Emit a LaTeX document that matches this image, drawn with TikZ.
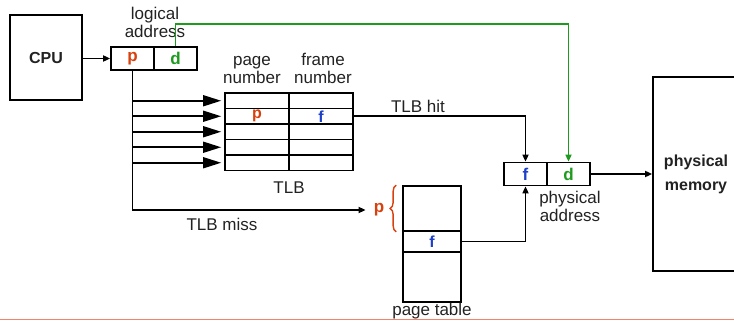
\documentclass[tikz,border=0pt]{standalone}
\usepackage{fontspec}
\setmainfont{Liberation Sans}
\usetikzlibrary{arrows.meta,positioning,decorations.pathreplacing}
\definecolor{inkgray}{HTML}{222222}
\definecolor{pagered}{HTML}{D8400E}
\definecolor{offgreen}{HTML}{1E9B1E}
\definecolor{frameblue}{HTML}{1E40C8}
\definecolor{rulesalmon}{HTML}{F4836C}

\begin{document}
\begin{tikzpicture}[
  x=1pt,y=-1pt,
  font=\fontsize{17}{18}\selectfont,
  bold/.style={font=\fontsize{16}{18}\selectfont\bfseries},
  cell/.style={draw=black,line width=1.7pt,minimum width=43pt,minimum height=23pt,
               inner sep=0pt,font=\fontsize{17}{18}\selectfont\bfseries},
  tlbcell/.style={draw=black,line width=1.7pt,minimum width=64pt,minimum height=15.5pt,
                  inner sep=0pt},
  ptcell/.style={draw=black,line width=1.7pt,minimum width=58pt,inner sep=0pt,bold},
  lbl/.style={align=center,inner sep=0pt,text=inkgray},
  arr/.style={-{Triangle[length=7pt,width=6pt]},line width=1.6pt},
  bigarr/.style={-{Triangle[length=18pt,width=11pt]},line width=1.6pt,shorten >=3pt}
]
  \useasboundingbox (0,0) rectangle (734,321);
  % cpu and logical address
  \node[draw,line width=1.7pt,minimum width=72pt,minimum height=85pt,bold,text=inkgray]
    (cpu) at (46,57.5) {CPU};
  \node[cell,text=pagered] (lp) at (132.5,58.5) {p};
  \node[cell,text=offgreen] (ld) at (175.5,58.5) {d};
  \node[lbl,anchor=south] (laddr) at (155,38) {logical\\address};
  \draw[arr] (cpu.east |- lp.west) -- (lp.west);

  % TLB
  \foreach \r in {1,...,5}{
    \node[tlbcell] (tp\r) at (257,{85.25+15.5*\r}) {};
    \node[tlbcell] (tf\r) at (321,{85.25+15.5*\r}) {};
    \draw[bigarr] (lp.south |- tp\r.west) -- (tp\r.west);
  }
  \node[bold,text=pagered,inner sep=0pt] (tlbp) at (tp2) {p};
  \node[bold,text=frameblue,inner sep=0pt] (tlbf) at (tf2) {f};
  \node[lbl,anchor=south] (pnum) at (252,84) {page\\number};
  \node[lbl,anchor=south] (fnum) at (323,84) {frame\\number};
  \node[lbl,anchor=base] (tlblbl) at (289,193) {TLB};

  % page table
  \node[ptcell,minimum height=45pt] (pt1) at (432,208.5) {};
  \node[ptcell,minimum height=21pt,text=frameblue] (ptf) at (432,241.5) {f};
  \node[ptcell,minimum height=50pt] (pt3) at (432,277) {};
  \node[lbl,anchor=base] (ptlbl) at (432,315) {page table};
  \draw[pagered,line width=1.4pt,decorate,decoration={brace,amplitude=6pt}]
    ([xshift=-6pt]pt1.south west) -- ([xshift=-6pt]pt1.north west);
  \node[font=\fontsize{17}{18}\selectfont\bfseries,text=pagered,inner sep=0pt] (ptp) at (379,210) {p};
  \draw[arr,shorten >=8pt] (lp.south) |- (ptp.west);
  \node[lbl,anchor=base] (misslbl) at (222,230) {TLB miss};

  % physical address and memory
  \node[cell,text=frameblue] (pf) at (525.5,174) {f};
  \node[cell,text=offgreen] (pd) at (568.5,174) {d};
  \node[lbl,anchor=south] (paddr) at (570,222) {physical\\address};
  \node[draw,line width=1.7pt,minimum width=86pt,minimum height=194pt,align=center,
        font=\fontsize{16}{24}\selectfont\bfseries,text=inkgray] (mem) at (696,174)
    {physical\\memory};
  \draw[arr] (tf2.east) -| (pf.north);
  \node[lbl,anchor=base] (hitlbl) at (418,112) {TLB hit};
  \draw[arr] (ptf.east) -| (pf.south);
  \draw[arr,offgreen] (ld.north) -- ++(0,-22) -| (pd.north);
  \draw[arr] (pd.east) -- (mem.west);

  \draw[rulesalmon,line width=1.5pt] (0,319.5) -- (734,319.5);
\end{tikzpicture}
\end{document}
